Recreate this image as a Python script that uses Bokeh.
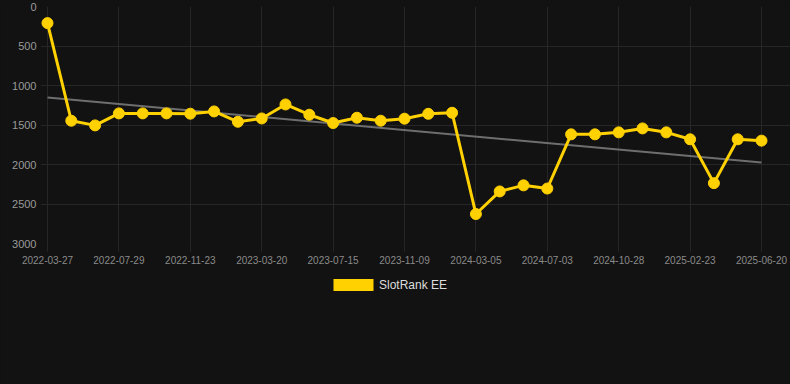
from bokeh.plotting import figure
from bokeh.layouts import column
from bokeh.models import (Range1d, FixedTicker, Legend, LegendItem, ColumnDataSource)
from bokeh.embed import file_html
from bokeh.resources import INLINE

# ---------------- data ----------------
# one observation per step; every third date is shown as an axis label
dates = [
    "2022-03-27", "2022-05-07", "2022-06-18", "2022-07-29", "2022-09-07",
    "2022-10-15", "2022-11-23", "2023-01-01", "2023-02-09", "2023-03-20",
    "2023-04-28", "2023-06-06", "2023-07-15", "2023-08-23", "2023-10-01",
    "2023-11-09", "2023-12-18", "2024-01-26", "2024-03-05", "2024-04-14",
    "2024-05-24", "2024-07-03", "2024-08-11", "2024-09-19", "2024-10-28",
    "2024-12-06", "2025-01-14", "2025-02-23", "2025-04-03", "2025-05-12",
    "2025-06-20",
]
ranks = [
    210, 1446, 1505, 1353, 1353, 1353, 1357, 1328, 1459, 1417,
    1240, 1370, 1475, 1408, 1446, 1420, 1358, 1345, 2627, 2341,
    2264, 2304, 1618, 1618, 1593, 1543, 1593, 1681, 2236, 1681,
    1698,
]
trend_values = [1152, 1976]          # trend at first and last observation
label_every = 3
y_ticks = [0, 500, 1000, 1500, 2000, 2500, 3000]
series_name = "SlotRank EE"

# ---------------- styling ----------------
BG = "#121212"
GRID = "#262626"
YELLOW = "#FFD100"
TREND = "#6e6e6e"
FONT = "Liberation Sans"
W = 790
H_MAIN = 270
H_LEG = 114

n = len(dates)
pos = list(range(n))
tick_pos = pos[::label_every]
overrides = {i: dates[i] for i in tick_pos}
trend_x = [pos[0], pos[-1]]

p = figure(
    width=W, height=H_MAIN,
    x_range=Range1d(-0.294, n - 1 + 1.218),
    y_range=Range1d(3000, 0),
    output_backend="svg",
    toolbar_location=None,
    min_border_left=40, min_border_right=0,
    min_border_top=6, min_border_bottom=27,
    background_fill_color=BG, border_fill_color=BG,
    outline_line_color=None,
)

p.grid.grid_line_color = GRID
p.grid.grid_line_width = 1

# x axis
p.xaxis.ticker = FixedTicker(ticks=tick_pos)
p.xaxis.major_label_overrides = overrides
p.xaxis.axis_line_color = None
p.xaxis.major_tick_out = 8
p.xaxis.major_tick_in = 0
p.xaxis.major_tick_line_color = GRID
p.xaxis.minor_tick_line_color = None
p.xaxis.major_label_standoff = 4
p.xaxis.major_label_text_font = FONT
p.xaxis.major_label_text_font_size = "10px"
p.xaxis.major_label_text_color = "#8a8a8a"

# y axis
p.yaxis.ticker = FixedTicker(ticks=y_ticks)
p.yaxis.axis_line_color = None
p.yaxis.major_tick_out = 0
p.yaxis.major_tick_in = 0
p.yaxis.minor_tick_line_color = None
p.yaxis.major_label_standoff = 4
p.yaxis.major_label_text_font = FONT
p.yaxis.major_label_text_font_size = "11px"
p.yaxis.major_label_text_color = "#9a9a9a"

# trend line
p.line(trend_x, trend_values, line_color=TREND, line_width=2)

# series
src = ColumnDataSource(dict(x=pos, y=ranks, date=dates))
p.line("x", "y", source=src, line_color=YELLOW, line_width=3)
p.scatter("x", "y", source=src, size=11, fill_color=YELLOW, line_color=YELLOW)

# ---------------- legend strip below the chart ----------------
leg_fig = figure(
    width=W, height=H_LEG,
    x_range=Range1d(0, 1), y_range=Range1d(0, 1),
    x_axis_location=None, y_axis_location=None,
    output_backend="svg",
    toolbar_location=None,
    min_border_left=40, min_border_right=0,
    min_border_top=0, min_border_bottom=0,
    background_fill_color=None, border_fill_color=BG,
    outline_line_color=None,
)
leg_fig.grid.visible = False
nan = float("nan")
swatch = leg_fig.quad(left=[nan], right=[nan], top=[nan], bottom=[nan],
                      fill_color=YELLOW, line_color=None)
legend = Legend(
    items=[LegendItem(label=series_name, renderers=[swatch])],
    location=(288, 92),
    orientation="horizontal",
    glyph_width=50, glyph_height=15,
    label_standoff=1,
    label_width=1, label_height=0,
    label_text_color="#dddddd",
    label_text_font=FONT,
    label_text_font_size="12px",
    border_line_color=None,
    background_fill_alpha=0,
    padding=0, margin=0,
)
leg_fig.add_layout(legend, "center")

layout = column(p, leg_fig, spacing=0)
layout.styles = {"background-color": BG}
open("out.html", "w").write(file_html(layout, INLINE))
